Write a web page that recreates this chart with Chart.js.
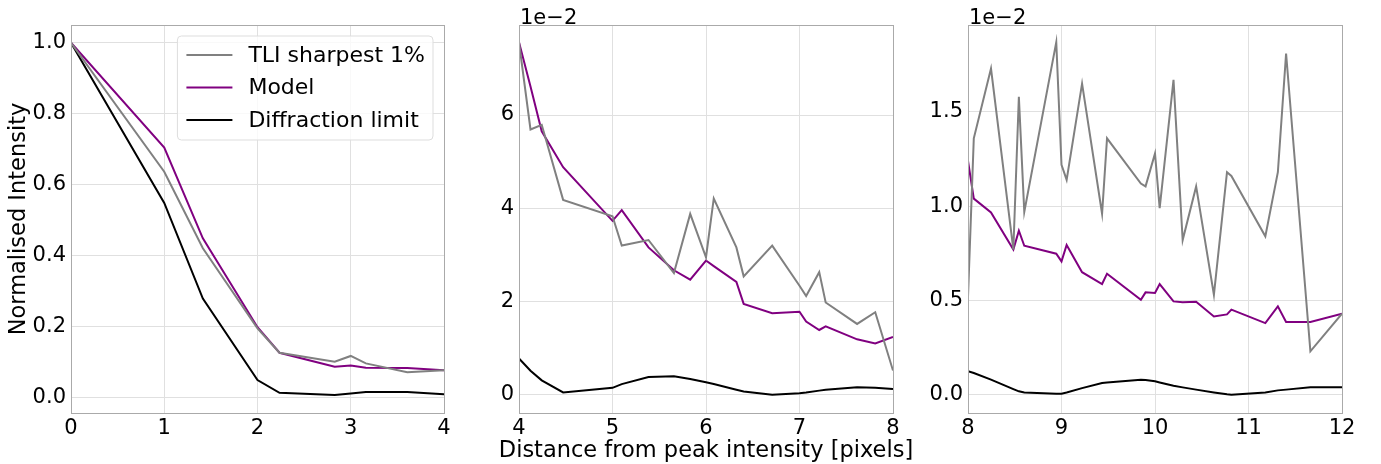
<!DOCTYPE html>
<html>
<head>
<meta charset="utf-8">
<script src="https://cdn.jsdelivr.net/npm/chart.js@4"></script>
<style>
  body { margin: 0; background: #fff; }
  #wrap { position: relative; width: 1381px; height: 464px; }
  canvas { position: absolute; top: 0; }
</style>
</head>
<body>
<div id="wrap">
  <canvas id="left" width="460" height="464" style="left:0"></canvas>
  <canvas id="middle" width="460" height="464" style="left:460px"></canvas>
  <canvas id="right" width="461" height="464" style="left:920px"></canvas>
</div>
<script>
// radial distance from the peak [pixels]
const distance = [
  0, 1, 1.414, 2, 2.236, 2.828, 3, 3.162, 3.606, 4,
  4.123, 4.243, 4.472, 5, 5.099, 5.385, 5.657, 5.831, 6, 6.083, 6.325, 6.403, 6.708, 7, 7.071, 7.211, 7.280, 7.616, 7.810, 8,
  8.062, 8.246, 8.485, 8.544, 8.602, 8.944, 9, 9.055, 9.220, 9.434, 9.487, 9.849, 9.899, 10, 10.050, 10.198, 10.296, 10.440, 10.630, 10.770, 10.817, 11.180, 11.314, 11.402, 11.662, 12
];
const tli = [
  1.0, 0.636, 0.42, 0.194, 0.125, 0.0997, 0.116, 0.095, 0.07, 0.0756,
  0.0569, 0.0579, 0.0418, 0.0383, 0.0320, 0.0332, 0.0261, 0.0388, 0.0295, 0.0421, 0.0316, 0.0254, 0.0320, 0.0234, 0.0212, 0.0263, 0.0198, 0.0152, 0.0177, 0.0052,
  0.0136, 0.0173, 0.0077, 0.0158, 0.0097, 0.0187, 0.0122, 0.0114, 0.0165, 0.0096, 0.0136, 0.0112, 0.01105, 0.0128, 0.0099, 0.0167, 0.0082, 0.01105, 0.0053, 0.0118, 0.0116, 0.0084, 0.0118, 0.0181, 0.0023, 0.0043
];
const model = [
  1.0, 0.704, 0.448, 0.197, 0.125, 0.0856, 0.089, 0.083, 0.082, 0.0756,
  0.0661, 0.0565, 0.0488, 0.0373, 0.0396, 0.0316, 0.0267, 0.0247, 0.0288, 0.0276, 0.0242, 0.0195, 0.0175, 0.0178, 0.0157, 0.0139, 0.0147, 0.0119, 0.0110, 0.0124,
  0.0104, 0.00967, 0.0077, 0.0087, 0.0079, 0.00748, 0.00707, 0.00794, 0.0065, 0.00587, 0.00642, 0.00504, 0.00543, 0.0054, 0.00587, 0.00495, 0.0049, 0.00493, 0.00415, 0.00426, 0.00451, 0.0038, 0.00469, 0.00386, 0.00386, 0.0043
];
const diffraction = [
  1.0, 0.548, 0.278, 0.048, 0.012, 0.0056, 0.01, 0.014, 0.014, 0.0078,
  0.00515, 0.0031, 0.0005, 0.0015, 0.0023, 0.0038, 0.0040, 0.0034, 0.0027, 0.0023, 0.0011, 0.0007, 0.0, 0.00036, 0.0005, 0.0009, 0.0011, 0.0016, 0.0015, 0.00125,
  0.00115, 0.0008, 0.0003, 0.00018, 0.00012, 0.00005, 0.00005, 0.00012, 0.00035, 0.00062, 0.00065, 0.0008, 0.00078, 0.00071, 0.00065, 0.00048, 0.00039, 0.00027, 0.00012, 0.00002, 0.0, 0.00012, 0.00023, 0.00027, 0.00039, 0.0004
];

const leftXTicks = [0, 1, 2, 3, 4];
const leftYTicks = [0, 0.2, 0.4, 0.6, 0.8, 1.0];
const middleXTicks = [4, 5, 6, 7, 8];
const middleYTicks = [0, 0.02, 0.04, 0.06];
const rightXTicks = [8, 9, 10, 11, 12];
const rightYTicks = [0, 0.005, 0.01, 0.015];

const xLabel = 'Distance from peak intensity [pixels]';
const yLabel = 'Normalised Intensity';

Chart.defaults.font.family = '"DejaVu Sans"';
Chart.defaults.color = '#000';

function points(values, lo, hi) {
  const out = [];
  distance.forEach((d, i) => { if (d >= lo && d <= hi) out.push({ x: d, y: values[i] }); });
  return out;
}

const frame = {
  id: 'frame',
  afterDatasetsDraw(chart) {
    const { ctx, chartArea: a } = chart;
    ctx.save();
    ctx.strokeStyle = '#aaaaaa';
    ctx.lineWidth = 1;
    ctx.strokeRect(Math.round(a.left) + 0.5, Math.round(a.top) + 0.5, Math.round(a.right - a.left), Math.round(a.bottom - a.top));
    ctx.restore();
  }
};

const offsetText = {
  id: 'offsetText',
  afterDraw(chart) {
    const { ctx, chartArea: a } = chart;
    ctx.save();
    ctx.font = '21px "DejaVu Sans"';
    ctx.fillStyle = '#000';
    ctx.textBaseline = 'alphabetic';
    ctx.fillText('1e\u22122', a.left + 1, a.top - 1);
    ctx.restore();
  }
};

// shared x label, centred under the middle panel (no width squeeze)
const xTitle = {
  id: 'xTitle',
  afterDraw(chart) {
    const { ctx, chartArea: a } = chart;
    ctx.save();
    ctx.font = '22.5px "DejaVu Sans"';
    ctx.fillStyle = '#000';
    ctx.textAlign = 'center';
    ctx.textBaseline = 'alphabetic';
    ctx.fillText(xLabel, (a.left + a.right) / 2, 457);
    ctx.restore();
  }
};

const legendBox = {
  id: 'legendBox',
  afterDatasetsDraw(chart) {
    const { ctx, chartArea: a } = chart;
    const sets = chart.data.datasets;
    ctx.save();
    ctx.font = '22px "DejaVu Sans"';
    const textW = Math.max(...sets.map(d => ctx.measureText(d.label).width));
    const w = 71 + textW + 8, h = 104;
    const x = a.right - 11 - w, y = a.top + 11;
    ctx.beginPath();
    ctx.roundRect(x, y, w, h, 4);
    ctx.fillStyle = 'rgba(255,255,255,0.8)';
    ctx.fill();
    ctx.strokeStyle = '#dddddd';
    ctx.lineWidth = 1;
    ctx.stroke();
    sets.forEach((d, i) => {
      const cy = y + 19 + i * 32.5;
      ctx.strokeStyle = d.borderColor;
      ctx.lineWidth = 2;
      ctx.beginPath();
      ctx.moveTo(x + 9, cy);
      ctx.lineTo(x + 55, cy);
      ctx.stroke();
      ctx.fillStyle = '#000';
      ctx.textBaseline = 'middle';
      ctx.fillText(d.label, x + 71, cy + 1);
    });
    ctx.restore();
  }
};

function panel(id, cfg) {
  const lo = cfg.xTicks[0], hi = cfg.xTicks[cfg.xTicks.length - 1];
  const line = (label, values, color) => ({
    label, data: points(values, lo, hi), borderColor: color, borderWidth: 2,
    pointRadius: 0, tension: 0, fill: false
  });
  return new Chart(document.getElementById(id), {
    type: 'line',
    data: {
      datasets: [
        line('TLI sharpest 1%', tli, 'gray'),
        line('Model', model, 'purple'),
        line('Diffraction limit', diffraction, 'black')
      ]
    },
    options: {
      responsive: false,
      animation: false,
      layout: { padding: { top: 25, right: cfg.padRight, left: 0, bottom: 0 } },
      plugins: { legend: { display: false }, tooltip: { enabled: false } },
      scales: {
        x: {
          type: 'linear', min: lo, max: hi,
          afterBuildTicks: s => { s.ticks = cfg.xTicks.map(v => ({ value: v })); },
          afterFit: s => { s.height = 51; },
          ticks: { font: { size: 21 }, padding: 3, maxRotation: 0, autoSkip: false, callback: v => String(v) },
          grid: { color: '#e0e0e0', drawTicks: false },
          border: { display: false }
        },
        y: {
          type: 'linear', min: cfg.yMin, max: cfg.yMax,
          afterBuildTicks: s => { s.ticks = cfg.yTicks.map(v => ({ value: v })); },
          afterFit: s => { s.width = cfg.yWidth; },
          ticks: { font: { size: 21 }, padding: 5, autoSkip: false, callback: cfg.yFormat },
          grid: { color: '#e0e0e0', drawTicks: false },
          border: { display: false },
          title: cfg.yTitle ? { display: true, text: cfg.yTitle, font: { size: 22.5 }, padding: { top: 6 } } : { display: false }
        }
      }
    },
    plugins: cfg.plugins
  });
}

panel('left', {
  xTicks: leftXTicks, yTicks: leftYTicks, yMin: -0.045, yMax: 1.05,
  yWidth: 71, padRight: 16, yTitle: yLabel,
  yFormat: v => v.toFixed(1), plugins: [frame, legendBox]
});
panel('middle', {
  xTicks: middleXTicks, yTicks: middleYTicks, yMin: -0.0039, yMax: 0.0793,
  yWidth: 59, padRight: 27,
  yFormat: v => (v * 100).toFixed(0), plugins: [frame, offsetText, xTitle]
});
panel('right', {
  xTicks: rightXTicks, yTicks: rightYTicks, yMin: -0.00097, yMax: 0.01961,
  yWidth: 48, padRight: 39,
  yFormat: v => (v * 100).toFixed(1), plugins: [frame, offsetText]
});
</script>
</body>
</html>
